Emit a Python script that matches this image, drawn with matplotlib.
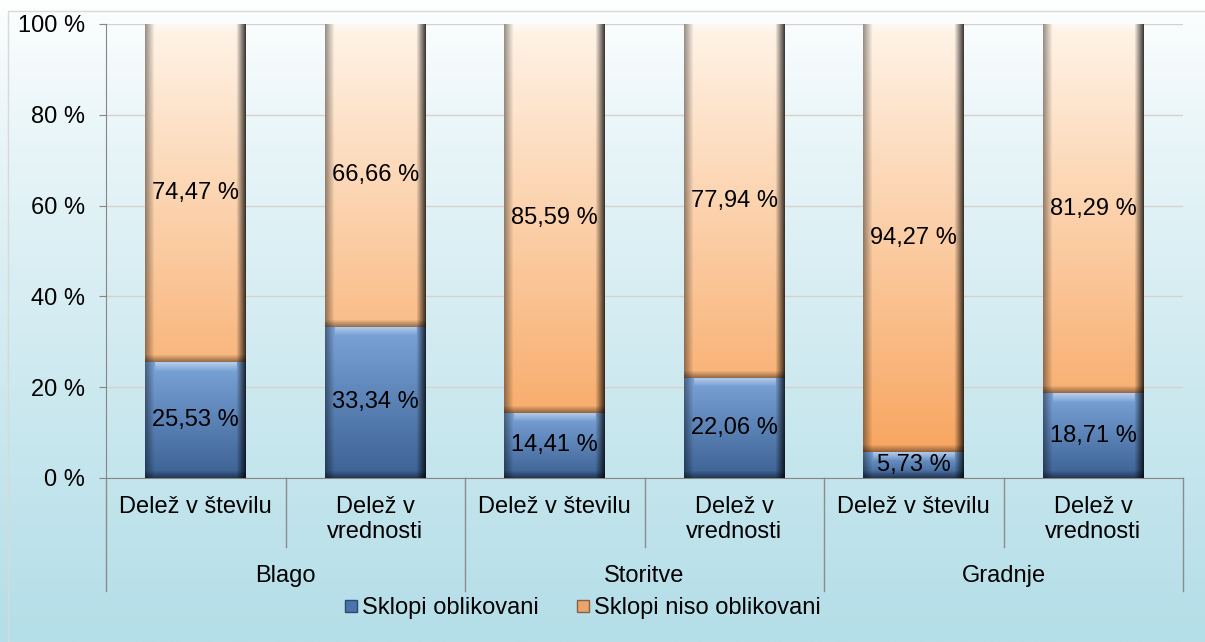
import matplotlib.pyplot as plt
import numpy as np
from matplotlib.colors import to_rgb
from matplotlib.patches import Rectangle
from matplotlib.lines import Line2D

plt.rcParams['font.family'] = ['Liberation Sans', 'DejaVu Sans']

groups = ['Blago', 'Storitve', 'Gradnje']
subcats = ['Delež v številu', 'Delež v\nvrednosti'] * 3
oblikovani = [25.53, 33.34, 14.41, 22.06, 5.73, 18.71]
niso = [74.47, 66.66, 85.59, 77.94, 94.27, 81.29]
series = ['Sklopi oblikovani', 'Sklopi niso oblikovani']

W, H = 1205, 642
FS = 17
fig = plt.figure(figsize=(W / 100, H / 100), dpi=100)

# background gradient
bg = fig.add_axes([0, 0, 1, 1])
bg.set_axis_off()
top = np.array(to_rgb('#ffffff'))
bot = np.array(to_rgb('#b4dee8'))
t = np.linspace(0, 1, 300)[:, None, None] ** 0.8
grad = top * (1 - t) + bot * t
grad = np.repeat(grad, 2, axis=1)
bg.imshow(grad, aspect='auto', extent=[0, 1, 0, 1], zorder=0)
bg.set_xlim(0, 1)
bg.set_ylim(0, 1)
bg.add_patch(Rectangle((8 / W, 0), 1, 1 - 11 / H, fill=False, ec='#d9d9d9', lw=1))

ax = fig.add_axes([106 / W, 1 - 478 / H, (1183 - 106) / W, (478 - 24) / H])
ax.patch.set_alpha(0)

x = np.arange(len(oblikovani))
bw = 0.56

px_x = (1183 - 106) / 6.0
px_y = (478 - 24) / 100.0


def bevel_image(cb, ct, w_px, h_px, f0, f1):
    w_px = max(int(w_px), 4)
    h_px = max(int(h_px), 4)
    cb = np.array(to_rgb(cb))
    ct = np.array(to_rgb(ct))
    yy = np.linspace(f1, f0, h_px)
    col = cb[None, :] * (1 - yy[:, None]) + ct[None, :] * yy[:, None]
    img = np.repeat(col[:, None, :], w_px, axis=1)
    xs = np.arange(w_px)
    ys = np.arange(h_px)
    b = 9.0
    shade = np.ones((h_px, w_px))
    shade *= (0.6 + 0.4 * np.clip(xs / b, 0, 1))[None, :]
    shade *= (0.25 + 0.75 * np.clip((w_px - 1 - xs) / b, 0, 1))[None, :]
    shade *= (0.6 + 0.4 * np.clip((h_px - 1 - ys) / 7.0, 0, 1))[:, None]
    img = img * shade[:, :, None]
    topb = np.clip(1 - ys / 9.0, 0, 1)[:, None, None] * 0.45
    inner = ((xs > b) & (xs < w_px - b)).astype(float)[None, :, None]
    img = img * (1 - topb * inner) + topb * inner
    return np.clip(img, 0, 1)


bars1 = ax.bar(x, oblikovani, bw, color='#4f81bd', zorder=2)
bars2 = ax.bar(x, niso, bw, bottom=oblikovani, color='#f9b57c', zorder=2)

for p in bars1:
    x0, y0, w, h = p.get_x(), p.get_y(), p.get_width(), p.get_height()
    img = bevel_image('#3c6193', '#7ba4d9', w * px_x, h * px_y, 0, 1)
    im = ax.imshow(img, extent=[x0, x0 + w, y0, y0 + h], aspect='auto', zorder=3,
                   interpolation='bilinear')
    im.set_clip_path(p)
for p in bars2:
    x0, y0, w, h = p.get_x(), p.get_y(), p.get_width(), p.get_height()
    img = bevel_image('#f7a158', '#fff4e8', w * px_x, h * px_y, y0 / 100, (y0 + h) / 100)
    im = ax.imshow(img, extent=[x0, x0 + w, y0, y0 + h], aspect='auto', zorder=3,
                   interpolation='bilinear')
    im.set_clip_path(p)

ax.set_xlim(-0.5, len(x) - 0.5)
ax.set_ylim(0, 100)

for i in x:
    ax.text(i, oblikovani[i] / 2, f'{oblikovani[i]:.2f} %'.replace('.', ','),
            ha='center', va='center', fontsize=FS, zorder=5)
    ax.text(i, oblikovani[i] + niso[i] / 2, f'{niso[i]:.2f} %'.replace('.', ','),
            ha='center', va='center', fontsize=FS, zorder=5)

ax.set_yticks(np.arange(0, 101, 20))
ax.set_yticklabels([f'{v} %' for v in range(0, 101, 20)], fontsize=FS)
ax.yaxis.grid(True, color='#d8d0cc', lw=1, zorder=0)
ax.set_axisbelow(True)
ax.tick_params(axis='y', length=5, color='#868686', pad=10)
ax.set_xticks([])
for s in ['top', 'right']:
    ax.spines[s].set_visible(False)
ax.spines['left'].set_color('#868686')
ax.spines['bottom'].set_color('#868686')

# two-level category axis
ah = 478 - 24
xt = ax.get_xaxis_transform()
for i in x:
    ax.text(i, -(496 - 478) / ah, subcats[i], transform=xt,
            ha='center', va='top', fontsize=FS, linespacing=1.15)
for j, g in enumerate(groups):
    ax.text(2 * j + 0.5, -(576 - 478) / ah, g, transform=xt,
            ha='center', va='center', fontsize=FS)

for k in range(7):
    xs = k - 0.5
    yend = -(591 - 478) / ah if k % 2 == 0 else -(547 - 478) / ah
    ax.add_line(Line2D([xs, xs], [0, yend], transform=xt,
                       color='#8c8c8c', lw=1, clip_on=False))

# legend
handles = [Line2D([], [], marker='s', ls='', markersize=9, markerfacecolor='#4a74ab',
                  markeredgecolor='#2c4a73'),
           Line2D([], [], marker='s', ls='', markersize=9, markerfacecolor='#e8a66e',
                  markeredgecolor='#8a6040')]
fig.legend(handles, series, loc='center', bbox_to_anchor=(581 / W, 1 - 608 / H), ncol=2,
           frameon=False, fontsize=FS, handletextpad=0.05, columnspacing=1.5,
           handlelength=0.8)

fig.savefig('out.png', dpi=100)
